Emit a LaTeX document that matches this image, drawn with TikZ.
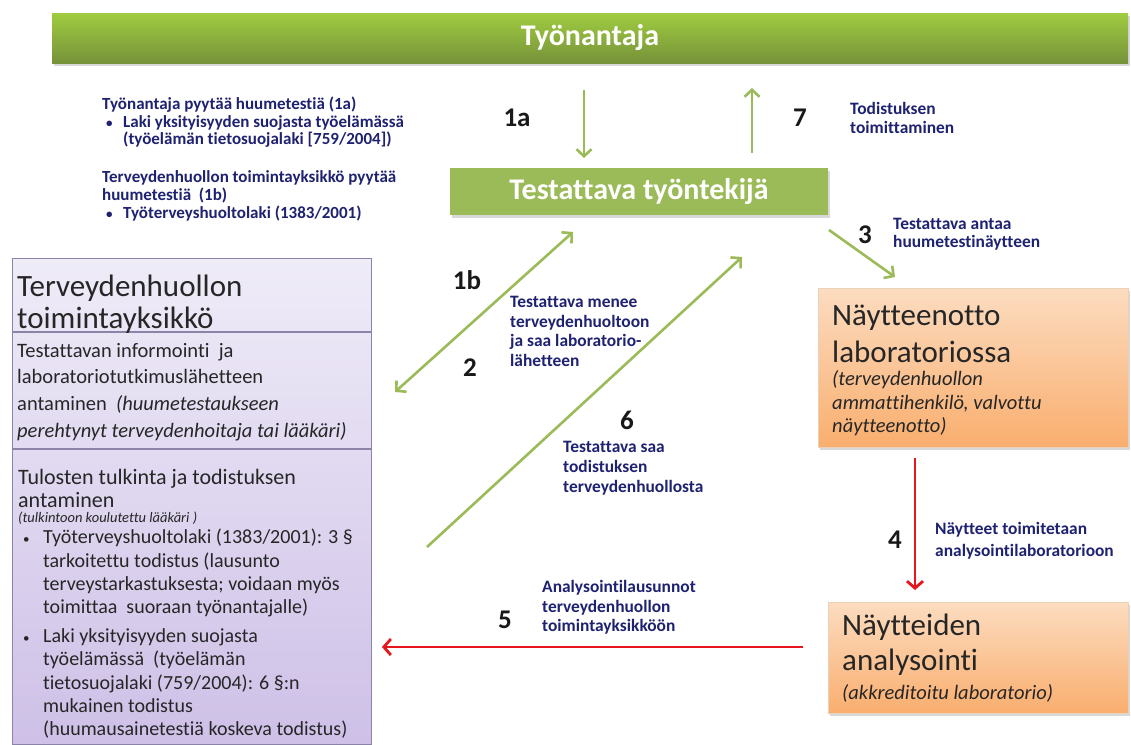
\documentclass[tikz,border=0pt]{standalone}
\usepackage{fontspec}
\setmainfont{Carlito}[Ligatures={NoCommon}]
\usetikzlibrary{arrows.meta,shadows}
\definecolor{gr}{RGB}{155,187,89}
\definecolor{grtop}{RGB}{160,204,64}
\definecolor{grbot}{RGB}{118,146,58}
\definecolor{navy}{RGB}{30,34,112}
\definecolor{redar}{RGB}{230,22,28}
\definecolor{purtop}{RGB}{239,236,248}
\definecolor{purbot}{RGB}{206,192,231}
\definecolor{purline}{RGB}{140,132,168}
\definecolor{ortop}{RGB}{252,220,192}
\definecolor{orbot}{RGB}{249,174,110}
\definecolor{numc}{RGB}{25,25,25}
\newcommand\fsz[2]{\fontsize{#1}{#2}\selectfont}
\newcommand\bul[1]{\makebox[#1][l]{\raisebox{0.3pt}{\fontsize{13}{13}\selectfont•}}}
\begin{document}
\begin{tikzpicture}[x=1pt,y=-1pt,
  garrow/.style={draw=gr, line width=2.6pt, -{Straight Barb[length=7pt,width=15pt]}},
  gdouble/.style={draw=gr, line width=2.6pt, {Straight Barb[length=7pt,width=15pt]}-{Straight Barb[length=7pt,width=15pt]}},
  rarrow/.style={draw=redar, line width=2.8pt, -{Straight Barb[length=7pt,width=16pt]}},
  num/.style={font=\fsz{27}{30}\bfseries, text=numc, inner sep=0},
  bluetxt/.style={text=navy, align=left, inner sep=0, anchor=west},
  bodytxt/.style={text=black!85, align=left, inner sep=0, anchor=west},
  shad/.style={drop shadow={opacity=0.3, shadow xshift=2pt, shadow yshift=-3pt}},
  orbox/.style={shad, top color=ortop, bottom color=orbot, draw=orbot!80!black!40, line width=0.4pt, inner sep=0}
]
\useasboundingbox (0,0) rectangle (1131,744);
\fill[white] (0,0) rectangle (1131,744);

% top bar
\node[shad, top color=grtop, bottom color=grbot, minimum width=1076pt, minimum height=50pt, inner sep=0,
  text=white, font=\fsz{30}{32}\bfseries] (bar) at (590,38) {Työnantaja};

% worker box
\node[shad, fill=gr, minimum width=378pt, minimum height=47pt, inner sep=0,
  text=white, font=\fsz{30}{32}\bfseries] (worker) at (639,191.5) {Testattava työntekijä};

% left request texts
\node[bluetxt, font=\fsz{17}{17.5}\bfseries] (req1) at (102,122.5)
 {Työnantaja pyytää huumetestiä (1a)\\
  \hspace*{4pt}\bul{17pt}Laki yksityisyyden suojasta työelämässä\\
  \hspace*{21pt}(työelämän tietosuojalaki [759/2004])};
\node[bluetxt, font=\fsz{17}{18}\bfseries] (req2) at (102,196)
 {Terveydenhuollon toimintayksikkö pyytää\\
  huumetestiä \ (1b)\\
  \hspace*{4pt}\bul{17pt}Työterveyshuoltolaki (1383/2001)};

% health care unit box
\node[top color=purtop, bottom color=purbot, draw=purline, line width=0.8pt,
  minimum width=359pt, minimum height=486pt, inner sep=0] (unit) at (191.5,501) {};
\coordinate (d1a) at (12,332); \coordinate (d1b) at (371,332);
\coordinate (d2a) at (12,449); \coordinate (d2b) at (371,449);
\draw[purline, line width=1.2pt] (d1a) -- (d1b);
\draw[purline, line width=1.2pt] (d2a) -- (d2b);
\node[bodytxt, font=\fsz{31}{32}] (unith) at (17,304) {Terveydenhuollon\\toimintayksikkö};
\node[bodytxt, font=\fsz{20.5}{26.7}] (unit2) at (17,392)
 {Testattavan informointi \ ja\\
  laboratoriotutkimuslähetteen\\
  antaminen \ {\itshape\fsz{20.5}{26.7}(huumetestaukseen}\\
  {\itshape\fsz{20.5}{26.7}perehtynyt terveydenhoitaja tai lääkäri)}};
\node[bodytxt, font=\fsz{22}{23}] (unit3a) at (18,488.5)
 {Tulosten tulkinta ja todistuksen\\antaminen};
\node[bodytxt, font=\fsz{14.5}{17}\itshape] (unit3b) at (18,518) {(tulkintoon koulutettu lääkäri )};
\node[bodytxt, font=\fsz{20}{23.3}] (unit3c) at (23,634)
 {\bul{20pt}Työterveyshuoltolaki (1383/2001): 3 §\\
  \hspace*{20pt}tarkoitettu todistus (lausunto\\
  \hspace*{20pt}terveystarkastuksesta; voidaan myös\\
  \hspace*{20pt}toimittaa \ suoraan työnantajalle)\\[5.5pt]
  \bul{20pt}Laki yksityisyyden suojasta\\
  \hspace*{20pt}työelämässä \ (työelämän\\
  \hspace*{20pt}tietosuojalaki (759/2004): 6 §:n\\
  \hspace*{20pt}mukainen todistus\\
  \hspace*{20pt}(huumausainetestiä koskeva todistus)};

% sampling box
\node[orbox, minimum width=310pt, minimum height=159pt] (samp) at (973,367.5) {};
\node[bodytxt, font=\fsz{31}{37}] (samph) at (832,333.5) {Näytteenotto\\laboratoriossa};
\node[bodytxt, font=\fsz{20.5}{23.5}\itshape] (sampi) at (832,403.5)
 {(terveydenhuollon\\ammattihenkilö, valvottu\\näytteenotto)};

% analysis box
\node[orbox, minimum width=300pt, minimum height=111pt] (anal) at (978,657.5) {};
\node[bodytxt, font=\fsz{31}{35}] (analh) at (842,644.5) {Näytteiden\\analysointi};
\node[bodytxt, font=\fsz{20.5}{22}\itshape] (anali) at (842,693) {(akkreditoitu laboratorio)};

% arrow end points
\coordinate (a1s) at (584,90);  \coordinate (a1e) at (584,158);
\coordinate (a7s) at (752,153); \coordinate (a7e) at (752,88);
\coordinate (a2s) at (395,392); \coordinate (a2e) at (573,232);
\coordinate (a6s) at (427,547); \coordinate (a6e) at (742,257);
\coordinate (a3s) at (829,230); \coordinate (a3e) at (895,277);
\coordinate (a4s) at (915,458); \coordinate (a4e) at (915,590);
\coordinate (a5s) at (803,647); \coordinate (a5e) at (382,647);

\draw[garrow] (a1s) -- (a1e);
\draw[garrow] (a7s) -- (a7e);
\draw[gdouble] (a2s) -- (a2e);
\draw[garrow] (a6s) -- (a6e);
\draw[garrow] (a3s) -- (a3e);
\draw[rarrow] (a4s) -- (a4e);
\draw[rarrow] (a5s) -- (a5e);

% numbers
\node[num] (n1a) at (517,118) {1a};
\node[num] (n7) at (800,118) {7};
\node[num] (n1b) at (467,280) {1b};
\node[num] (n2) at (470,368) {2};
\node[num] (n3) at (865,235) {3};
\node[num] (n6) at (627,420) {6};
\node[num] (n4) at (895,540) {4};
\node[num] (n5) at (505,620) {5};

% step labels
\node[bluetxt, font=\fsz{17.4}{19}\bfseries] (t7) at (850,117.5) {Todistuksen\\toimittaminen};
\node[bluetxt, font=\fsz{17.4}{18}\bfseries] (t3) at (893,234) {Testattava antaa\\huumetestinäytteen};
\node[bluetxt, font=\fsz{17.4}{19.7}\bfseries] (t2) at (510,331.5)
 {Testattava menee\\terveydenhuoltoon\\ja saa laboratorio-\\lähetteen};
\node[bluetxt, font=\fsz{17.4}{20}\bfseries] (t6) at (563,468)
 {Testattava saa\\todistuksen\\terveydenhuollosta};
\node[bluetxt, font=\fsz{17.4}{22}\bfseries] (t4) at (935,541)
 {Näytteet toimitetaan\\analysointilaboratorioon};
\node[bluetxt, font=\fsz{17.4}{19.5}\bfseries] (t5) at (542,607.5)
 {Analysointilausunnot\\terveydenhuollon\\toimintayksikköön};
\end{tikzpicture}
\end{document}
